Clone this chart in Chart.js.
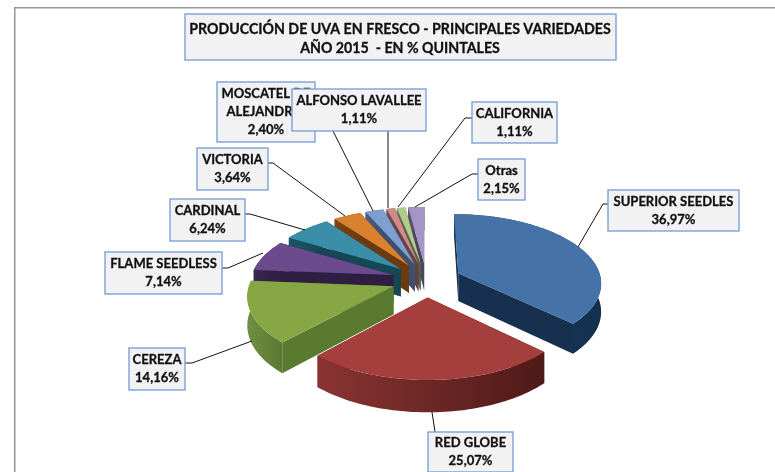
<!DOCTYPE html>
<html>
<head>
<meta charset="utf-8">
<script src="https://cdn.jsdelivr.net/npm/chart.js@4"></script>
<style>
    html, body { margin: 0; padding: 0; background: #fff; }
    #wrap { position: relative; width: 775px; height: 472px; }
</style>
</head>
<body>
<div id="wrap"><canvas id="chart"></canvas></div>
<script>
const varieties = ['SUPERIOR SEEDLES', 'RED GLOBE', 'CEREZA', 'FLAME SEEDLESS', 'CARDINAL', 'VICTORIA', 'MOSCATEL DE ALEJANDRIA', 'ALFONSO LAVALLEE', 'CALIFORNIA', 'Otras'];
const shares = [36.97, 25.07, 14.16, 7.14, 6.24, 3.64, 2.40, 1.11, 1.11, 2.15];
const shareLabels = ['36,97%', '25,07%', '14,16%', '7,14%', '6,24%', '3,64%', '2,40%', '1,11%', '1,11%', '2,15%'];
const titleLines = ['PRODUCCIÓN DE UVA EN FRESCO - PRINCIPALES VARIEDADES', 'AÑO 2015  - EN % QUINTALES'];

const topColors = ['#4572a7', '#a43f3e', '#87a644', '#6b4a8e', '#3a8ea8', '#d9812f', '#7f9fd2', '#cf8b89', '#b0cb8c', '#a594c4'];
const sideLight = ['#1b3a5e', '#8a3432', '#6f9040', '#3a2650', '#1d5565', '#7d4512', '#4a5f80', '#75504f', '#66755a', '#5c5270'];
const sideDark = ['#15304f', '#4e1a18', '#587a32', '#2e1e42', '#164755', '#6b3a0e', '#3e5070', '#624342', '#55624a', '#4c4460'];
const cutColors = ['#17304f', '#5a2020', '#5a7a30', '#2e1e42', '#164755', '#6b3a0e', '#3e5070', '#624342', '#55624a', '#4c4460'];

// box x, y, w, h and the leader line, same order as varieties
const labelBoxes = [
    [608, 190, 131, 41], [428, 432, 85, 40], [129, 348, 56, 42], [105, 252, 117, 42], [170, 199, 75, 42],
    [197, 148, 71, 42], [217, 82, 98, 60], [292, 89, 134, 42], [472, 102, 85, 41], [478, 159, 47, 41]
];
const leaders = [
    [[608, 204], [603, 204], [578, 247]], [[435, 432], [432, 412]], [[185, 363], [192, 363], [252, 341]],
    [[222, 268], [228, 268], [263, 253]], [[245, 214], [250, 214], [305, 230]], [[268, 163], [273, 163], [345, 216]],
    [[333, 131], [373, 211]], [[388, 131], [388, 208]], [[472, 118], [465, 118], [398, 207]], [[478, 174], [472, 174], [415, 207]]
];

const squash = 69.5;    // screen half height of the pie, in px
const perspective = 0.125;
const depth = 28;

function project(arc, angle, radius, drop) {
    const mid = (arc.startAngle + arc.endAngle) / 2;
    const off = arc.options.offset || 0;
    const R = arc.outerRadius;
    const px = Math.cos(mid) * off + Math.cos(angle) * radius;
    const py = Math.sin(mid) * off + Math.sin(angle) * radius;
    const s = 1 + perspective * py / R;
    return [arc.x + px * s, arc.y + py * squash / R * s + drop * s];
}

function arcPoints(arc, drop) {
    const pts = [];
    const steps = Math.max(4, Math.ceil((arc.endAngle - arc.startAngle) * 40));
    for (let i = 0; i <= steps; ++i) {
        const a = arc.startAngle + (arc.endAngle - arc.startAngle) * i / steps;
        pts.push(project(arc, a, arc.outerRadius, drop));
    }
    return pts;
}

function fillPoly(ctx, pts, fill) {
    ctx.beginPath();
    pts.forEach((p, i) => i ? ctx.lineTo(p[0], p[1]) : ctx.moveTo(p[0], p[1]));
    ctx.closePath();
    ctx.fillStyle = fill;
    ctx.fill();
}

function drawSlice(ctx, arc, i) {
    const apexTop = project(arc, arc.startAngle, 0, 0);
    const apexBot = project(arc, arc.startAngle, 0, depth);
    const top = arcPoints(arc, 0);
    const bot = arcPoints(arc, depth);
    const last = top.length - 1;

    fillPoly(ctx, [apexTop, top[0], bot[0], apexBot], cutColors[i]);
    fillPoly(ctx, [apexTop, top[last], bot[last], apexBot], cutColors[i]);

    const xs = top.map(p => p[0]);
    const grad = ctx.createLinearGradient(Math.min(...xs), 0, Math.max(...xs), 0);
    grad.addColorStop(0, sideLight[i]);
    grad.addColorStop(1, sideDark[i]);
    fillPoly(ctx, top.concat(bot.slice().reverse()), grad);

    fillPoly(ctx, [apexTop].concat(top), topColors[i]);
}

function boldText(ctx, text, x, y) {
    ctx.fillText(text, x, y);
    ctx.strokeText(text, x, y);
}

function drawBox(ctx, x, y, w, h) {
    ctx.fillStyle = '#f2f2f2';
    ctx.strokeStyle = '#7ba3d6';
    ctx.lineWidth = 1.4;
    ctx.fillRect(x, y, w, h);
    ctx.strokeRect(x, y, w, h);
    ctx.fillStyle = '#111';
    ctx.strokeStyle = '#111';
    ctx.lineWidth = 0.3;
}

const pie3d = {
    id: 'pie3d',
    beforeDatasetsDraw(chart) {
        const ctx = chart.ctx;
        const arcs = chart.getDatasetMeta(0).data;
        const mid = (arc) => Math.sin((arc.startAngle + arc.endAngle) / 2);
        const order = arcs.map((a, i) => i).sort((a, b) => mid(arcs[a]) - mid(arcs[b]));
        ctx.save();
        order.forEach(i => drawSlice(ctx, arcs[i], i));
        ctx.restore();
        return false;
    },
    afterDraw(chart) {
        const ctx = chart.ctx;
        ctx.save();
        // frame
        ctx.strokeStyle = '#969696';
        ctx.lineWidth = 1.5;
        ctx.beginPath();
        ctx.moveTo(14.75, 472);
        ctx.lineTo(14.75, 7.75);
        ctx.lineTo(775, 7.75);
        ctx.stroke();

        // leaders
        ctx.strokeStyle = '#111';
        ctx.lineWidth = 1;
        leaders.forEach(line => {
            ctx.beginPath();
            line.forEach((p, i) => i ? ctx.lineTo(p[0], p[1]) : ctx.moveTo(p[0], p[1]));
            ctx.stroke();
        });

        ctx.textAlign = 'center';
        ctx.textBaseline = 'middle';

        // title box
        drawBox(ctx, 185, 14, 431, 46);
        ctx.font = 'bold 14.2px Lato';
        boldText(ctx, titleLines[0], 400, 29);
        boldText(ctx, titleLines[1], 400, 48);

        // labels, Moscatel ends up under Alfonso like the original
        ctx.font = 'bold 13px Lato';
        varieties.forEach((name, i) => {
            const [x, y, w, h] = labelBoxes[i];
            drawBox(ctx, x, y, w, h);
            const cx = x + w / 2;
            if (i === 6) {
                boldText(ctx, 'MOSCATEL DE', cx, y + 12);
                boldText(ctx, 'ALEJANDRIA', cx, y + 30);
                boldText(ctx, shareLabels[i], cx, y + 48);
            } else {
                boldText(ctx, name, cx, y + h / 2 - 9);
                boldText(ctx, shareLabels[i], cx, y + h / 2 + 9);
            }
        });
        ctx.restore();
    }
};

new Chart(document.getElementById('chart'), {
    type: 'pie',
    data: {
        labels: varieties,
        datasets: [{
            data: shares,
            backgroundColor: topColors,
            borderWidth: 0,
            offset: 35,
            hoverOffset: 0
        }]
    },
    options: {
        responsive: true,
        maintainAspectRatio: false,
        animation: false,
        events: [],
        radius: 143,
        layout: { padding: { left: 78, top: 88 } },
        plugins: {
            legend: { display: false },
            tooltip: { enabled: false }
        }
    },
    plugins: [pie3d]
});
</script>
</body>
</html>
